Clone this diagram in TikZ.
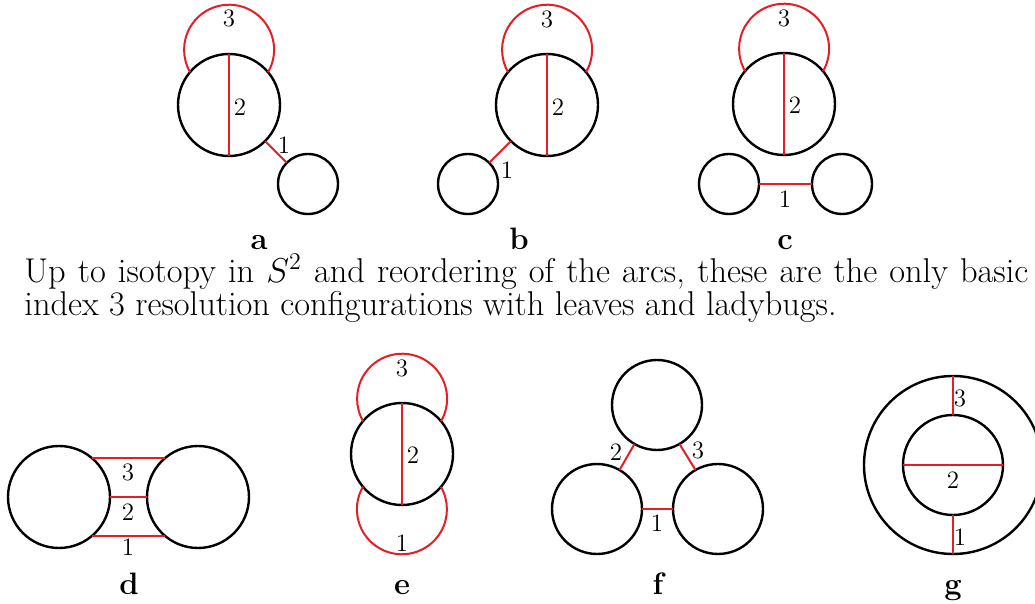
\documentclass[tikz,border=0pt]{standalone}
\usetikzlibrary{calc, positioning}

\definecolor{arcred}{RGB}{228,30,38}

\tikzset{
  circ/.style={draw, circle, line width=1.2pt, inner sep=0pt, outer sep=0pt, minimum size=#1},
  arcline/.style={draw=arcred, line width=1pt},
  num/.style={font=\fontsize{12.5}{12.5}\selectfont, inner sep=0pt},
  tag/.style={font=\fontsize{15.5}{15.5}\selectfont\bfseries, anchor=base, inner sep=0pt},
  caption/.style={font=\fontsize{17.2}{15.5}\selectfont, align=left, anchor=north west, inner sep=0pt}
}

\begin{document}
\begin{tikzpicture}[x=0.5pt, y=0.5pt]
    \useasboundingbox (0,0) rectangle (1035,-604);

    % a: big circle with a leaf to the lower right
    \node[circ=51pt] (a-big) at (229,-105) {};
    \node[circ=30pt] (a-leaf) at (308,-184) {};
    \draw[arcline] (a-big.north) -- (a-big.south);
    \draw[arcline] (a-big.40) arc[start angle=-30, end angle=210, radius=45];
    \draw[arcline] (a-big.-45) -- (a-leaf.135);
    \node[num] (a-2) at (240,-107) {2};
    \node[num] (a-3) at (229,-18) {3};
    \node[num] (a-1) at (284,-145) {1};
    \node[tag] (a-tag) at (259,-250) {a};

    % b: leaf to the lower left
    \node[circ=51pt] (b-big) at (547,-105) {};
    \node[circ=30pt] (b-leaf) at (468,-184) {};
    \draw[arcline] (b-big.north) -- (b-big.south);
    \draw[arcline] (b-big.40) arc[start angle=-30, end angle=210, radius=45];
    \draw[arcline] (b-big.225) -- (b-leaf.45);
    \node[num] (b-2) at (558,-107) {2};
    \node[num] (b-3) at (547,-19) {3};
    \node[num] (b-1) at (507,-170) {1};
    \node[tag] (b-tag) at (519,-250) {b};

    % c: two leaves joined below
    \node[circ=51pt] (c-big) at (784,-104) {};
    \node[circ=30pt] (c-leafl) at (729,-184) {};
    \node[circ=30pt] (c-leafr) at (842,-184) {};
    \draw[arcline] (c-big.north) -- (c-big.south);
    \draw[arcline] (c-big.40) arc[start angle=-30, end angle=210, radius=45];
    \draw[arcline] (c-leafl.east) -- (c-leafr.west);
    \node[num] (c-2) at (795,-105) {2};
    \node[num] (c-3) at (784,-18) {3};
    \node[num] (c-1) at (785,-199) {1};
    \node[tag] (c-tag) at (785,-250) {c};

    % caption
    \node[caption] (txt) at (24,-254) {\makebox[502pt][s]{Up to isotopy in $S^2$ and reordering of the arcs, these are the only basic}\\
        index 3 resolution configurations with leaves and ladybugs.};

    % d: two circles, three parallel arcs
    \node[circ=51pt] (d-left) at (59,-497) {};
    \node[circ=51pt] (d-right) at (198,-497) {};
    \draw[arcline] (d-left.50) -- (d-right.130);
    \draw[arcline] (d-left.east) -- (d-right.west);
    \draw[arcline] (d-left.-50) -- (d-right.230);
    \node[num] (d-3) at (128,-472) {3};
    \node[num] (d-2) at (128,-512) {2};
    \node[num] (d-1) at (128,-547) {1};
    \node[tag] (d-tag) at (129,-595) {d};

    % e: one circle, loops above and below
    \node[circ=51pt] (e-big) at (402,-454) {};
    \draw[arcline] (e-big.north) -- (e-big.south);
    \draw[arcline] (e-big.40) arc[start angle=-30, end angle=210, radius=45];
    \draw[arcline] (e-big.220) arc[start angle=150, end angle=390, radius=45];
    \node[num] (e-2) at (413,-455) {2};
    \node[num] (e-3) at (402,-368) {3};
    \node[num] (e-1) at (402,-543) {1};
    \node[tag] (e-tag) at (402,-595) {e};

    % f: triangle of circles
    \node[circ=45pt] (f-top) at (657,-405) {};
    \node[circ=45pt] (f-left) at (597,-509) {};
    \node[circ=45pt] (f-right) at (718,-509) {};
    \draw[arcline] (f-left.east) -- (f-right.west);
    \draw[arcline] (f-top.240) -- (f-left.60);
    \draw[arcline] (f-top.300) -- (f-right.120);
    \node[num] (f-1) at (657,-523) {1};
    \node[num] (f-2) at (616,-452) {2};
    \node[num] (f-3) at (698,-450) {3};
    \node[tag] (f-tag) at (658,-595) {f};

    % g: nested circles
    \node[circ=89pt] (g-out) at (953,-465) {};
    \node[circ=50pt] (g-in) at (953,-465) {};
    \draw[arcline] (g-out.north) -- (g-in.north);
    \draw[arcline] (g-in.west) -- (g-in.east);
    \draw[arcline] (g-in.south) -- (g-out.south);
    \node[num] (g-3) at (960,-398) {3};
    \node[num] (g-2) at (953,-480) {2};
    \node[num] (g-1) at (960,-537) {1};
    \node[tag] (g-tag) at (953,-595) {g};
\end{tikzpicture}
\end{document}
